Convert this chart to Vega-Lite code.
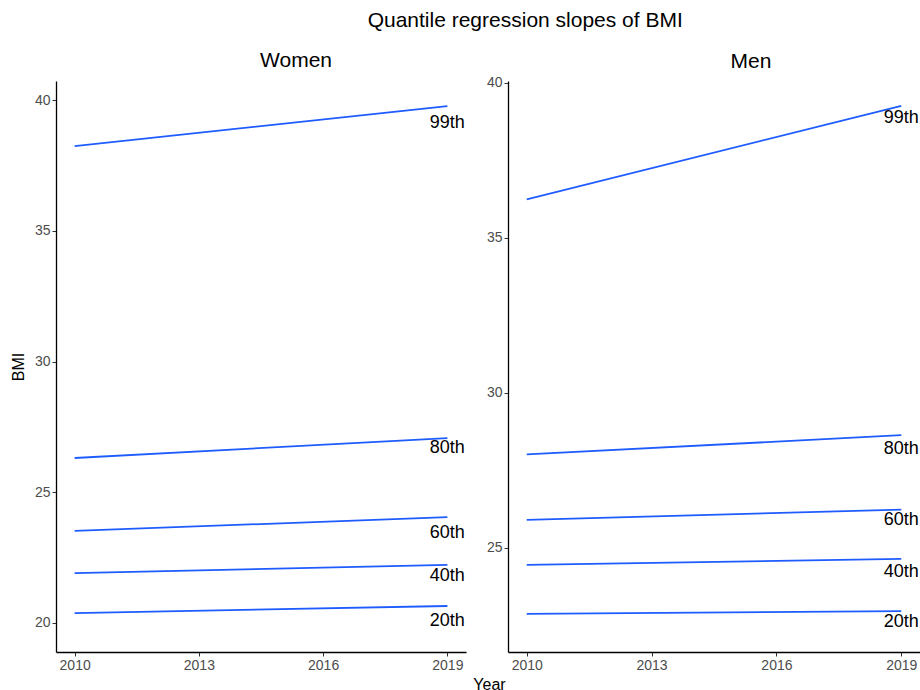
{
  "$schema": "https://vega.github.io/schema/vega-lite/v6.json",
  "padding": {"left": 10, "top": 10, "right": 0, "bottom": 0},
  "background": "white",
  "title": {"text": "Quantile regression slopes of BMI", "anchor": "middle", "fontSize": 21, "fontWeight": "normal", "color": "#000", "offset": 19, "dx": 60},
  "datasets": {
    "lines": [
      {"sex": "Women", "quantile": "20th", "year": 2010, "bmi": 20.38},
      {"sex": "Women", "quantile": "20th", "year": 2019, "bmi": 20.65},
      {"sex": "Women", "quantile": "40th", "year": 2010, "bmi": 21.91},
      {"sex": "Women", "quantile": "40th", "year": 2019, "bmi": 22.22},
      {"sex": "Women", "quantile": "60th", "year": 2010, "bmi": 23.52},
      {"sex": "Women", "quantile": "60th", "year": 2019, "bmi": 24.05},
      {"sex": "Women", "quantile": "80th", "year": 2010, "bmi": 26.31},
      {"sex": "Women", "quantile": "80th", "year": 2019, "bmi": 27.07},
      {"sex": "Women", "quantile": "99th", "year": 2010, "bmi": 38.24},
      {"sex": "Women", "quantile": "99th", "year": 2019, "bmi": 39.77},
      {"sex": "Men", "quantile": "20th", "year": 2010, "bmi": 22.87},
      {"sex": "Men", "quantile": "20th", "year": 2019, "bmi": 22.96},
      {"sex": "Men", "quantile": "40th", "year": 2010, "bmi": 24.45},
      {"sex": "Men", "quantile": "40th", "year": 2019, "bmi": 24.64},
      {"sex": "Men", "quantile": "60th", "year": 2010, "bmi": 25.90},
      {"sex": "Men", "quantile": "60th", "year": 2019, "bmi": 26.23},
      {"sex": "Men", "quantile": "80th", "year": 2010, "bmi": 28.01},
      {"sex": "Men", "quantile": "80th", "year": 2019, "bmi": 28.63},
      {"sex": "Men", "quantile": "99th", "year": 2010, "bmi": 36.23},
      {"sex": "Men", "quantile": "99th", "year": 2019, "bmi": 39.25}
    ],
    "labels": [
      {"sex": "Women", "quantile": "20th", "year": 2019, "label_bmi": 20.06},
      {"sex": "Women", "quantile": "40th", "year": 2019, "label_bmi": 21.80},
      {"sex": "Women", "quantile": "60th", "year": 2019, "label_bmi": 23.44},
      {"sex": "Women", "quantile": "80th", "year": 2019, "label_bmi": 26.69},
      {"sex": "Women", "quantile": "99th", "year": 2019, "label_bmi": 39.12},
      {"sex": "Men", "quantile": "20th", "year": 2019, "label_bmi": 22.60},
      {"sex": "Men", "quantile": "40th", "year": 2019, "label_bmi": 24.21},
      {"sex": "Men", "quantile": "60th", "year": 2019, "label_bmi": 25.89},
      {"sex": "Men", "quantile": "80th", "year": 2019, "label_bmi": 28.18},
      {"sex": "Men", "quantile": "99th", "year": 2019, "label_bmi": 38.86}
    ]
  },
  "hconcat": [
    {
      "title": {"text": "Women", "fontSize": 21, "fontWeight": "normal", "color": "#000", "anchor": "middle", "offset": 10, "dx": 35},
      "width": 410,
      "height": 571,
      "layer": [
        {
          "data": {"name": "lines"},
          "transform": [{"filter": "datum.sex === 'Women'"}],
          "mark": {"type": "line", "color": "#1f5cff", "strokeWidth": 1.8},
          "encoding": {
            "x": {"field": "year", "type": "quantitative", "scale": {"domain": [2009.55, 2019.45], "nice": false, "zero": false},
                  "axis": {"values": [2010, 2013, 2016, 2019], "format": "d", "title": "Year", "titleX": 433, "titleY": 37, "titleBaseline": "alphabetic", "titleAlign": "center", "titleAnchor": null}},
            "y": {"field": "bmi", "type": "quantitative", "scale": {"domain": [18.89, 40.73], "nice": false, "zero": false},
                  "axis": {"values": [20, 25, 30, 35, 40], "title": "BMI"}},
            "detail": {"field": "quantile"}
          }
        },
        {
          "data": {"name": "labels"},
          "transform": [{"filter": "datum.sex === 'Women'"}],
          "mark": {"type": "text", "fontSize": 18, "color": "#000", "align": "center", "baseline": "middle"},
          "encoding": {
            "x": {"field": "year", "type": "quantitative"},
            "y": {"field": "label_bmi", "type": "quantitative"},
            "text": {"field": "quantile"}
          }
        }
      ]
    },
    {
      "title": {"text": "Men", "fontSize": 21, "fontWeight": "normal", "color": "#000", "anchor": "middle", "offset": 4, "dx": 37},
      "width": 412,
      "height": 571,
      "layer": [
        {
          "data": {"name": "lines"},
          "transform": [{"filter": "datum.sex === 'Men'"}],
          "mark": {"type": "line", "color": "#1f5cff", "strokeWidth": 1.8},
          "encoding": {
            "x": {"field": "year", "type": "quantitative", "scale": {"domain": [2009.55, 2019.45], "nice": false, "zero": false},
                  "axis": {"values": [2010, 2013, 2016, 2019], "format": "d", "title": null}},
            "y": {"field": "bmi", "type": "quantitative", "scale": {"domain": [21.64, 40.05], "nice": false, "zero": false},
                  "axis": {"values": [25, 30, 35, 40], "title": null}},
            "detail": {"field": "quantile"}
          }
        },
        {
          "data": {"name": "labels"},
          "transform": [{"filter": "datum.sex === 'Men'"}],
          "mark": {"type": "text", "fontSize": 18, "color": "#000", "align": "center", "baseline": "middle"},
          "encoding": {
            "x": {"field": "year", "type": "quantitative"},
            "y": {"field": "label_bmi", "type": "quantitative"},
            "text": {"field": "quantile"}
          }
        }
      ]
    }
  ],
  "spacing": 42,
  "bounds": "flush",
  "config": {
    "font": "Liberation Sans",
    "view": {"stroke": null},
    "axis": {
      "grid": false,
      "domainColor": "#000",
      "domainWidth": 1.3,
      "tickColor": "#333",
      "tickSize": 4,
      "labelColor": "#4d4d4d",
      "labelFontSize": 14,
      "labelPadding": 2,
      "titleFontSize": 16,
      "titleFontWeight": "normal",
      "titleColor": "#000",
      "titlePadding": 8
    }
  }
}
